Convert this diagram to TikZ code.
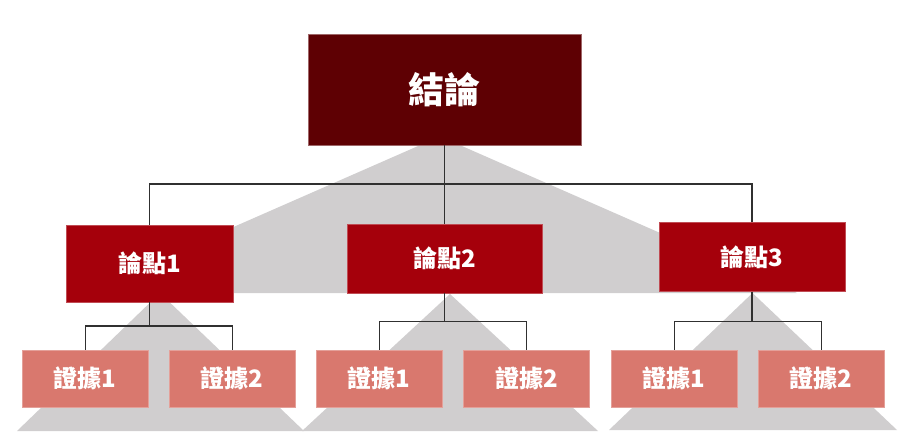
\documentclass[tikz,border=0pt]{standalone}
\usepackage{fontspec}
\newfontfamily\cjk{Noto Sans CJK TC}
\definecolor{topc}{HTML}{5E0003}
\definecolor{midc}{HTML}{A5000B}
\definecolor{lowc}{HTML}{D9786E}
\definecolor{tri}{HTML}{D0CECF}
\definecolor{ln}{HTML}{303030}
\begin{document}
\begin{tikzpicture}[x=1pt,y=-1pt,
  box/.style={rectangle,inner sep=0pt,text=white,font=\cjk\bfseries},
  topbox/.style={box,fill=topc,draw=topc!60!white,line width=0.6pt,minimum width=273pt,minimum height=111pt,font=\cjk\bfseries\fontsize{36}{40}\selectfont},
  midbox/.style={box,fill=midc,draw=midc!70!white,line width=0.6pt,minimum height=69pt,font=\cjk\bfseries\fontsize{24}{28}\selectfont},
  lowbox/.style={box,fill=lowc,draw=lowc!70!white,line width=0.8pt,minimum width=126pt,minimum height=56.5pt,font=\cjk\bfseries\fontsize{24}{28}\selectfont},
  conn/.style={draw=ln,line width=1.3pt}]
\useasboundingbox (0,0) rectangle (904,442);
% gray triangles
\fill[tri] (440,136.4) -- (83,293) -- (797,293) -- cycle;
\fill[tri] (160,293) -- (17,431) -- (304,431) -- cycle;
\fill[tri] (450,294) -- (302,431) -- (598,431) -- cycle;
\fill[tri] (752.5,293) -- (609,430) -- (897,430) -- cycle;
% nodes
\node[topbox] (top) at (444.5,89.5) {結論};
\node[midbox,minimum width=167pt,minimum height=77pt] (l1) at (149.5,263.5) {論點1};
\node[midbox,minimum width=195pt] (l2) at (444.5,258.3) {論點2};
\node[midbox,minimum width=186pt] (l3) at (752,256.8) {論點3};
\node[lowbox] (e11) at (85.2,378.7) {證據1};
\node[lowbox] (e12) at (232.2,378.7) {證據2};
\node[lowbox] (e21) at (379.3,378.7) {證據1};
\node[lowbox] (e22) at (526.7,378.7) {證據2};
\node[lowbox] (e31) at (674.2,378.7) {證據1};
\node[lowbox] (e32) at (821.2,378.7) {證據2};
% bar levels
\coordinate (bar0) at (0,184);
\coordinate (bar1) at (0,326);
\coordinate (bar2) at (0,321.3);
% connectors
\draw[conn] (top.south) -- (l2.north);
\draw[conn] (top.south |- bar0) -| (l1.north);
\draw[conn] (top.south |- bar0) -| (l3.north);
\draw[conn] (l1.south) -- (l1.south |- bar1);
\draw[conn] (l1.south |- bar1) -| (e11.north);
\draw[conn] (l1.south |- bar1) -| (e12.north);
\draw[conn] (l2.south) -- (l2.south |- bar2);
\draw[conn] (l2.south |- bar2) -| (e21.north);
\draw[conn] (l2.south |- bar2) -| (e22.north);
\draw[conn] (l3.south) -- (l3.south |- bar2);
\draw[conn] (l3.south |- bar2) -| (e31.north);
\draw[conn] (l3.south |- bar2) -| (e32.north);
\end{tikzpicture}
\end{document}
